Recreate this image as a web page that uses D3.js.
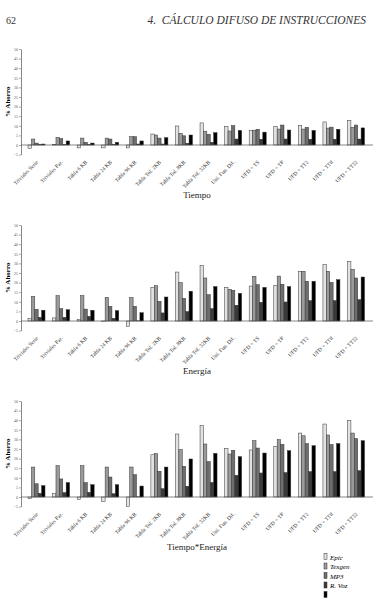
<!DOCTYPE html>
<html>
<head>
<meta charset="utf-8">
<script src="https://cdn.jsdelivr.net/npm/d3@7"></script>
<style>
	body { margin: 0; background: #fff; }
	svg { display: block; font-family: "Liberation Serif", "DejaVu Serif", serif; }
</style>
</head>
<body>
<script>
// categories and series
var categories = ["Triviales Serie", "Triviales Par.", "Tabla 6 KB", "Tabla 24 KB", "Tabla 96 KB",
	"Tabla Tol. 2KB", "Tabla Tol. 8KB", "Tabla Tol. 32KB", "Uni. Fun. Dif.",
	"UFD + TS", "UFD + TP", "UFD + TT2", "UFD + TT8", "UFD + TT32"];
var series = ["Epic", "Texgen", "MP3", "R. Voz", "GSM"];
var legendLabels = ["Epic", "Texgen", "MP3", "R. Voz"];
var seriesColors = ["#e2e2e2", "#9a9a9a", "#6e6e6e", "#3a3a3a", "#000000"];
var yTicks = [-5, 0, 5, 10, 15, 20, 25, 30, 35, 40, 45, 50];

// % ahorro, one row per series (Epic, Texgen, MP3, R. Voz, 5th)
var tiempo = [
	[-1.7, 0.3, -1.5, -1.5, -1.5, 5.7, 9.9, 11.5, 9.6, 7.7, 9.7, 10.2, 12.0, 12.7],
	[3.1, 4.0, 3.6, 3.6, 4.3, 5.2, 6.1, 7.2, 7.3, 7.7, 8.3, 8.3, 8.8, 9.2],
	[1.0, 3.3, 1.4, 3.1, 4.3, 3.6, 4.8, 5.6, 10.1, 8.2, 10.4, 9.2, 9.3, 10.4],
	[0.2, 0.2, 0.2, 0.3, 0.5, 0.5, 0.9, 1.4, 3.1, 3.0, 3.1, 3.0, 3.0, 3.1],
	[0.5, 2.1, 1.0, 1.4, 2.1, 3.8, 5.2, 6.4, 7.6, 6.7, 7.8, 7.6, 8.2, 8.9]
];
var energia = [
	[1.2, 1.6, 0.7, -0.3, -2.8, 17.5, 25.5, 29.0, 17.5, 18.2, 18.6, 25.9, 29.3, 30.9],
	[12.8, 13.2, 13.2, 12.3, 12.2, 18.4, 20.0, 22.4, 16.5, 23.3, 23.4, 25.9, 25.9, 26.9],
	[6.1, 6.4, 6.2, 7.6, 7.6, 10.2, 11.8, 13.7, 16.0, 18.9, 19.1, 20.7, 20.1, 22.4],
	[1.9, 1.9, 2.4, 1.4, 0.1, 4.2, 4.9, 6.4, 8.2, 9.7, 9.9, 10.6, 10.6, 11.1],
	[5.6, 5.9, 5.6, 5.4, 4.3, 12.5, 15.5, 17.9, 14.4, 17.5, 17.9, 20.7, 21.5, 22.9]
];
var tiempoEnergia = [
	[-0.8, 1.7, -1.2, -2.3, -4.9, 22.0, 32.8, 37.2, 25.3, 24.5, 26.4, 33.3, 38.0, 39.8],
	[15.6, 16.3, 16.3, 15.6, 15.6, 22.6, 24.7, 27.6, 22.4, 29.3, 29.9, 31.9, 32.3, 33.3],
	[6.9, 9.4, 7.5, 10.4, 11.6, 13.4, 16.0, 18.4, 24.3, 25.5, 27.4, 27.8, 27.3, 30.4],
	[1.9, 2.3, 2.4, 1.7, 0.1, 4.3, 5.6, 7.6, 11.3, 12.5, 12.7, 13.2, 13.2, 13.7],
	[5.9, 7.5, 6.4, 6.4, 5.7, 15.6, 19.8, 22.7, 21.0, 22.9, 24.1, 26.7, 27.8, 29.3]
];

var width = 378, height = 600;

var svg = d3.select("body").append("svg")
	.attr("width", width)
	.attr("height", height);

// page header
svg.append("text")
	.attr("x", 6).attr("y", 24)
	.attr("font-size", 10)
	.attr("fill", "#333")
	.text("62");
svg.append("text")
	.attr("x", 366).attr("y", 24)
	.attr("text-anchor", "end")
	.attr("font-size", 11.5)
	.attr("font-style", "italic")
	.attr("fill", "#333")
	.attr("xml:space", "preserve")
	.text("4.  CÁLCULO DIFUSO DE INSTRUCCIONES");

var x = d3.scaleBand()
	.domain(categories)
	.range([24.2, 368.3]);

var barsWidth = 17;
var xs = d3.scaleBand()
	.domain(series)
	.range([(x.bandwidth() - barsWidth) / 2, (x.bandwidth() + barsWidth) / 2]);

function drawChart(values, top, title) {
	// top = y pixel of the "50" tick
	var y = d3.scaleLinear()
		.domain([-5, 50])
		.range([top + 105.6, top]);

	var g = svg.append("g");

	// bars
	series.forEach(function(s, i) {
		g.append("g")
			.selectAll("rect")
			.data(values[i])
			.enter().append("rect")
			.attr("x", function(d, j) { return x(categories[j]) + xs(s); })
			.attr("y", function(d) { return y(Math.max(0, d)); })
			.attr("width", xs.bandwidth())
			.attr("height", function(d) { return Math.abs(y(d) - y(0)); })
			.attr("fill", seriesColors[i])
			.attr("stroke", "#333")
			.attr("stroke-width", 0.5);
	});

	// y axis
	var yAxis = g.append("g")
		.attr("transform", "translate(21,0)")
		.call(d3.axisLeft(y).tickValues(yTicks).tickSize(2).tickSizeOuter(0).tickPadding(1));
	yAxis.selectAll("text").attr("font-size", 4).attr("font-family", "Liberation Serif, serif").attr("fill", "#555");
	yAxis.selectAll("line").attr("stroke", "#555").attr("stroke-width", 0.5);
	yAxis.select(".domain").attr("stroke", "#555").attr("stroke-width", 0.7);

	// zero line
	g.append("line")
		.attr("x1", 21).attr("x2", 373)
		.attr("y1", y(0)).attr("y2", y(0))
		.attr("stroke", "#555")
		.attr("stroke-width", 0.7);

	// category labels
	g.selectAll(".cat")
		.data(categories)
		.enter().append("text")
		.attr("class", "cat")
		.attr("transform", function(d) {
			return "translate(" + (x(d) + x.bandwidth() / 2 + 2) + "," + (y(-5) + 8) + ") rotate(-45)";
		})
		.attr("text-anchor", "end")
		.attr("font-size", 5.5)
		.attr("fill", "#333")
		.text(function(d) { return d; });

	// y label
	g.append("text")
		.attr("transform", "translate(10," + y(22.5) + ") rotate(-90)")
		.attr("text-anchor", "middle")
		.attr("font-size", 7)
		.attr("font-weight", "bold")
		.text("% Ahorro");

	// title
	g.append("text")
		.attr("x", 197)
		.attr("y", y(0) + 53)
		.attr("text-anchor", "middle")
		.attr("font-size", 9)
		.attr("fill", "#222")
		.text(title);
}

drawChart(tiempo, 49, "Tiempo");
drawChart(energia, 225, "Energía");
drawChart(tiempoEnergia, 401, "Tiempo*Energía");

// legend
var legend = svg.append("g").attr("transform", "translate(324,0)");
series.forEach(function(s, i) {
	var ly = 557 + i * 9.5;
	legend.append("rect")
		.attr("x", 0).attr("y", ly - 3.5)
		.attr("width", 3).attr("height", 6)
		.attr("fill", seriesColors[i])
		.attr("stroke", "#333")
		.attr("stroke-width", 0.5);
	if (i < legendLabels.length) {
		legend.append("text")
			.attr("x", 6).attr("y", ly + 2.5)
			.attr("font-size", 7)
			.attr("font-style", "italic")
			.text(legendLabels[i]);
	}
});
</script>
</body>
</html>
